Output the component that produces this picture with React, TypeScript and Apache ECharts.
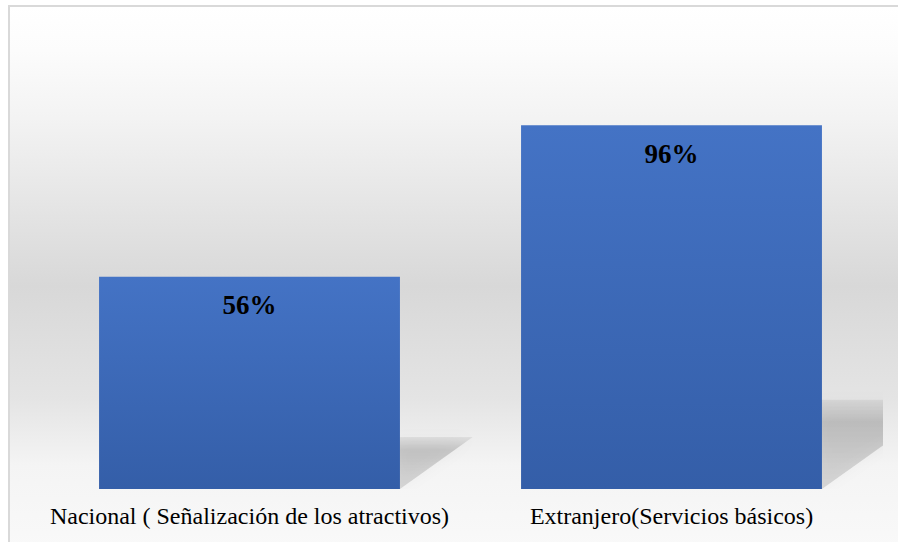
import React, { useEffect, useRef } from "react";
import * as echarts from "echarts";

const categories = ["Nacional ( Señalización de los atractivos)", "Extranjero(Servicios básicos)"];
const values = [56, 96];
const valueLabels = ["56%", "96%"];

const FONT = "Liberation Serif";

export default function App() {
  const ref = useRef<HTMLDivElement>(null);
  useEffect(() => {
    if (!ref.current) return;
    const chart = echarts.init(ref.current, undefined, { renderer: "svg" });
    const barRatio = 0.713;
    chart.setOption({
      animation: false,
      textStyle: { fontFamily: FONT },
      graphic: [
        {
          type: "rect",
          z: -10,
          silent: true,
          shape: { x: 9, y: 6, width: 900, height: 560 },
          style: {
            fill: new echarts.graphic.LinearGradient(0, 0, 0, 1, [
              { offset: 0, color: "#ffffff" },
              { offset: 0.08, color: "#fcfcfc" },
              { offset: 0.2, color: "#f3f3f3" },
              { offset: 0.5, color: "#d8d8d8" },
              { offset: 0.7, color: "#e4e4e4" },
              { offset: 0.82, color: "#f4f4f4" },
              { offset: 1, color: "#fafafa" },
            ]),
            stroke: "#d9d9d9",
            lineWidth: 2,
          },
        },
      ],
      grid: { left: 38.5, right: 15.5, top: 110, bottom: 53 },
      xAxis: {
        type: "category",
        data: categories,
        axisLine: { show: false },
        axisTick: { show: false },
        axisLabel: {
          color: "#000",
          fontFamily: FONT,
          fontSize: 24,
          margin: 15,
          interval: 0,
        },
      },
      yAxis: {
        type: "value",
        min: 0,
        max: 100,
        show: false,
        splitLine: { show: false },
      },
      series: [
        {
          type: "custom",
          z: 1,
          clip: true,
          silent: true,
          data: values.map((v, i) => [i, v]),
          renderItem: (params: any, api: any) => {
            const base = api.coord([api.value(0), 0]);
            const top = api.coord([api.value(0), api.value(1)]);
            const bw = api.size([1, 0])[0] * barRatio;
            const xR = base[0] + bw / 2;
            const h = base[1] - top[1];
            const sh = h * 0.245;
            const shift = sh * 1.4;
            return {
              type: "polygon",
              shape: {
                points: [
                  [xR - 4, base[1]],
                  [xR - 4, base[1] - sh],
                  [xR + shift, base[1] - sh],
                  [xR, base[1]],
                ],
              },
              style: {
                fill: new echarts.graphic.LinearGradient(0, 0, 0, 1, [
                  { offset: 0, color: "rgba(0,0,0,0.06)" },
                  { offset: 0.25, color: "rgba(0,0,0,0.17)" },
                  { offset: 1, color: "rgba(0,0,0,0.12)" },
                ]),
                shadowBlur: 14,
                shadowColor: "rgba(0,0,0,0.2)",
              },
            };
          },
        },
        {
          type: "bar",
          z: 2,
          data: values,
          barWidth: "71.3%",
          itemStyle: {
            color: new echarts.graphic.LinearGradient(0, 0, 0, 1, [
              { offset: 0, color: "#4473c5" },
              { offset: 1, color: "#345ea8" },
            ]),
          },
          label: {
            show: true,
            position: "insideTop",
            distance: 15,
            formatter: (p: any) => valueLabels[p.dataIndex],
            color: "#000",
            fontFamily: FONT,
            fontWeight: "bold",
            fontSize: 27,
          },
        },
      ],
    });
    return () => chart.dispose();
  }, []);
  return (
    <div
      ref={ref}
      style={{ position: "absolute", left: 0, top: 0, width: 898, height: 542 }}
    />
  );
}
